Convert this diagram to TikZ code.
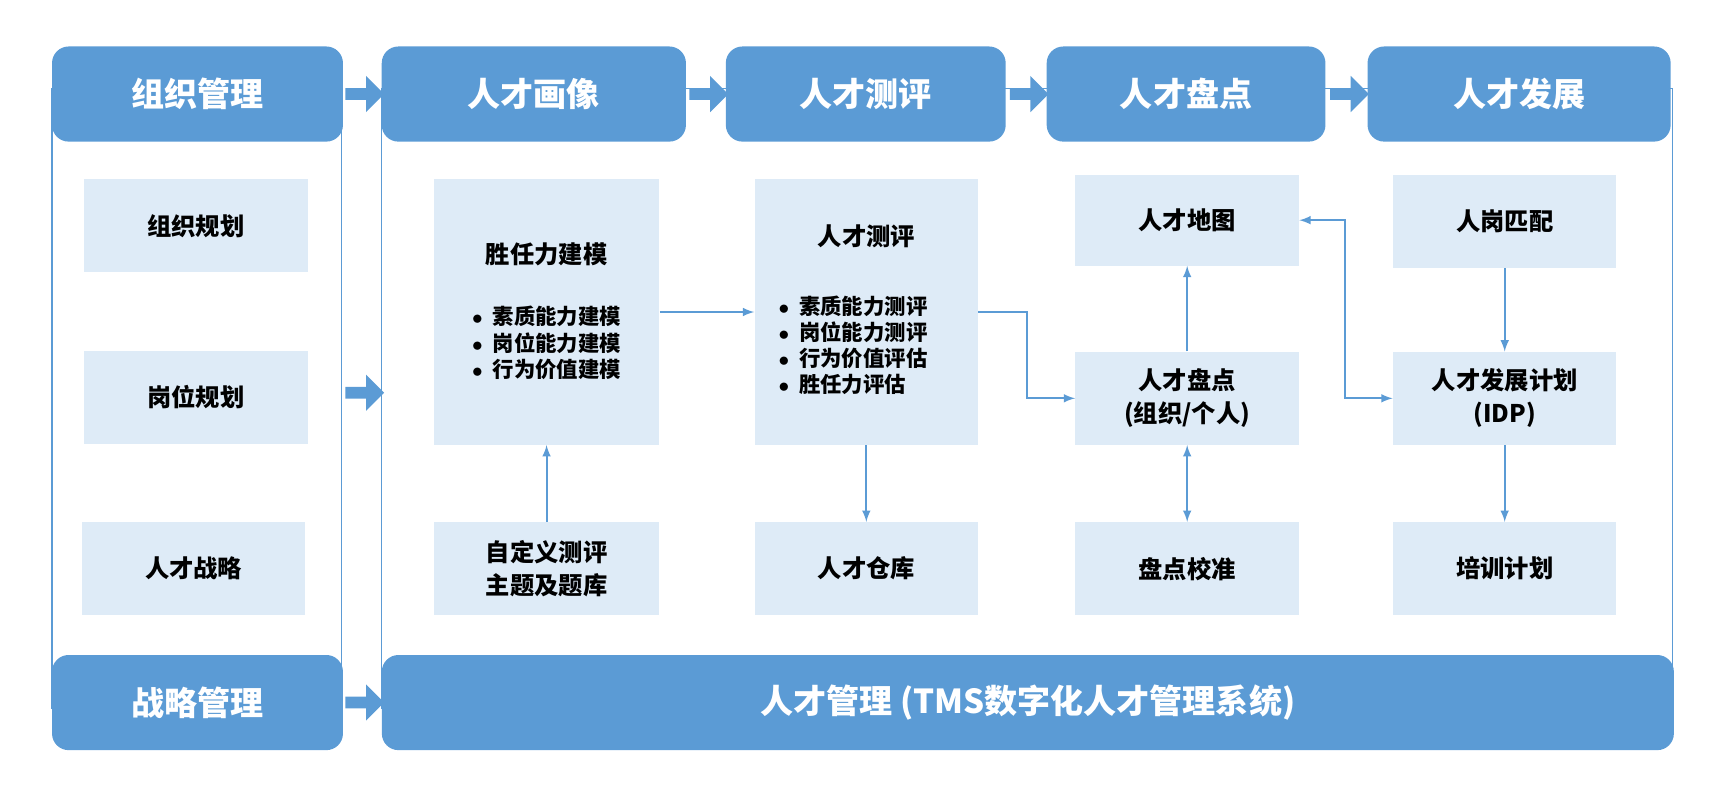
\documentclass[tikz,border=0pt]{standalone}
\usepackage{fontspec}
\setmainfont{Noto Sans CJK SC}
\usetikzlibrary{shapes.arrows}
\definecolor{hdblue}{HTML}{5B9BD5}
\definecolor{boxblue}{HTML}{DEEBF7}
\tikzset{
  head/.style={fill=hdblue, rounded corners=0.3cm, text=white, font=\fontsize{17}{20}\selectfont\bfseries},
  frame/.style={draw=hdblue, line width=0.6pt},
  item/.style={fill=boxblue, font=\fontsize{12.5}{17}\selectfont\bfseries, align=center},
  flow/.style={draw=hdblue, line width=1pt, -latex},
  bigarrow/.style={single arrow, fill=hdblue, minimum height=0.7cm, single arrow head extend=0.22cm, inner sep=0.1cm},
}
\begin{document}
\begin{tikzpicture}[x=0.02cm, y=-0.02cm]
    \useasboundingbox (0,0) rectangle (1560,720);
    % frames
    \draw[frame] (47,80) rectangle (309,640);
    \draw[frame] (345,80) rectangle (1512,640);
    % headers
    \node[head, minimum width=5.26cm, minimum height=1.72cm] (org) at (178.5,85) {组织管理};
    \node[head, minimum width=5.5cm, minimum height=1.72cm] (pic) at (482.5,85) {人才画像};
    \node[head, minimum width=5.06cm, minimum height=1.72cm] (eva) at (782.5,85) {人才测评};
    \node[head, minimum width=5.04cm, minimum height=1.72cm] (rev) at (1072,85) {人才盘点};
    \node[head, minimum width=5.48cm, minimum height=1.72cm] (dev) at (1373,85) {人才发展};
    \node[head, minimum width=5.26cm, minimum height=1.72cm] (stg) at (178.5,635) {战略管理};
    \node[head, minimum width=23.36cm, minimum height=1.72cm] (tms) at (929,635) {人才管理 (TMS数字化人才管理系统)};
    % block arrows
    \foreach \x/\n in {327/a1, 638/a2, 927.5/a3, 1217/a4} {
      \node[bigarrow] (\n) at (\x,85) {};
    }
    \node[bigarrow] (a5) at (327,355) {};
    \node[bigarrow] (a6) at (327,635) {};
    % left column
    \node[item, minimum width=4.04cm, minimum height=1.68cm] (plan) at (177,204) {组织规划};
    \node[item, minimum width=4.04cm, minimum height=1.68cm] (post) at (177,359) {岗位规划};
    \node[item, minimum width=4.04cm, minimum height=1.68cm] (strat) at (175,514) {人才战略};
    % talent boxes
    \node[item, minimum width=4.08cm, minimum height=4.8cm] (model) at (494,282) {};
    \node[font=\fontsize{12.5}{17}\selectfont\bfseries] at (494,230) {胜任力建模};
    \node[font=\fontsize{11}{13.5}\selectfont\bfseries, align=left] at (494,310) {$\bullet$\ \ 素质能力建模\\$\bullet$\ \ 岗位能力建模\\$\bullet$\ \ 行为价值建模};
    \node[item, minimum width=4.08cm, minimum height=1.68cm] (bank) at (494,514) {自定义测评\\主题及题库};
    \node[item, minimum width=4.04cm, minimum height=4.8cm] (test) at (783,282) {};
    \node[font=\fontsize{12.5}{17}\selectfont\bfseries] at (783,214) {人才测评};
    \node[font=\fontsize{11}{13.5}\selectfont\bfseries, align=left] at (771,312) {$\bullet$\ \ 素质能力测评\\$\bullet$\ \ 岗位能力测评\\$\bullet$\ \ 行为价值评估\\$\bullet$\ \ 胜任力评估};
    \node[item, minimum width=4.04cm, minimum height=1.68cm] (pool) at (783,514) {人才仓库};
    \node[item, minimum width=4.04cm, minimum height=1.64cm] (map) at (1073,199) {人才地图};
    \node[item, minimum width=4.04cm, minimum height=1.68cm] (count) at (1073,360) {人才盘点\\(组织/个人)};
    \node[item, minimum width=4.04cm, minimum height=1.68cm] (calib) at (1073,514) {盘点校准};
    \node[item, minimum width=4.04cm, minimum height=1.68cm] (match) at (1360,200) {人岗匹配};
    \node[item, minimum width=4.04cm, minimum height=1.68cm] (idp) at (1360,360) {人才发展计划\\(IDP)};
    \node[item, minimum width=4.04cm, minimum height=1.68cm] (train) at (1360,514) {培训计划};
    % connectors
    \draw[flow] (model.east |- 0,282) -- (test.west |- 0,282);
    \draw[flow] (bank) -- (model);
    \draw[flow] (test) -- (pool);
    \draw[flow] (test.east |- 0,282) -- (928,282) |- (count.west);
    \draw[flow] (count) -- (map);
    \draw[flow, latex-latex] (count) -- (calib);
    \draw[flow, latex-latex] (map.east) -- (1216,199) |- (idp.west);
    \draw[flow] (match) -- (idp);
    \draw[flow] (idp) -- (train);
\end{tikzpicture}
\end{document}
